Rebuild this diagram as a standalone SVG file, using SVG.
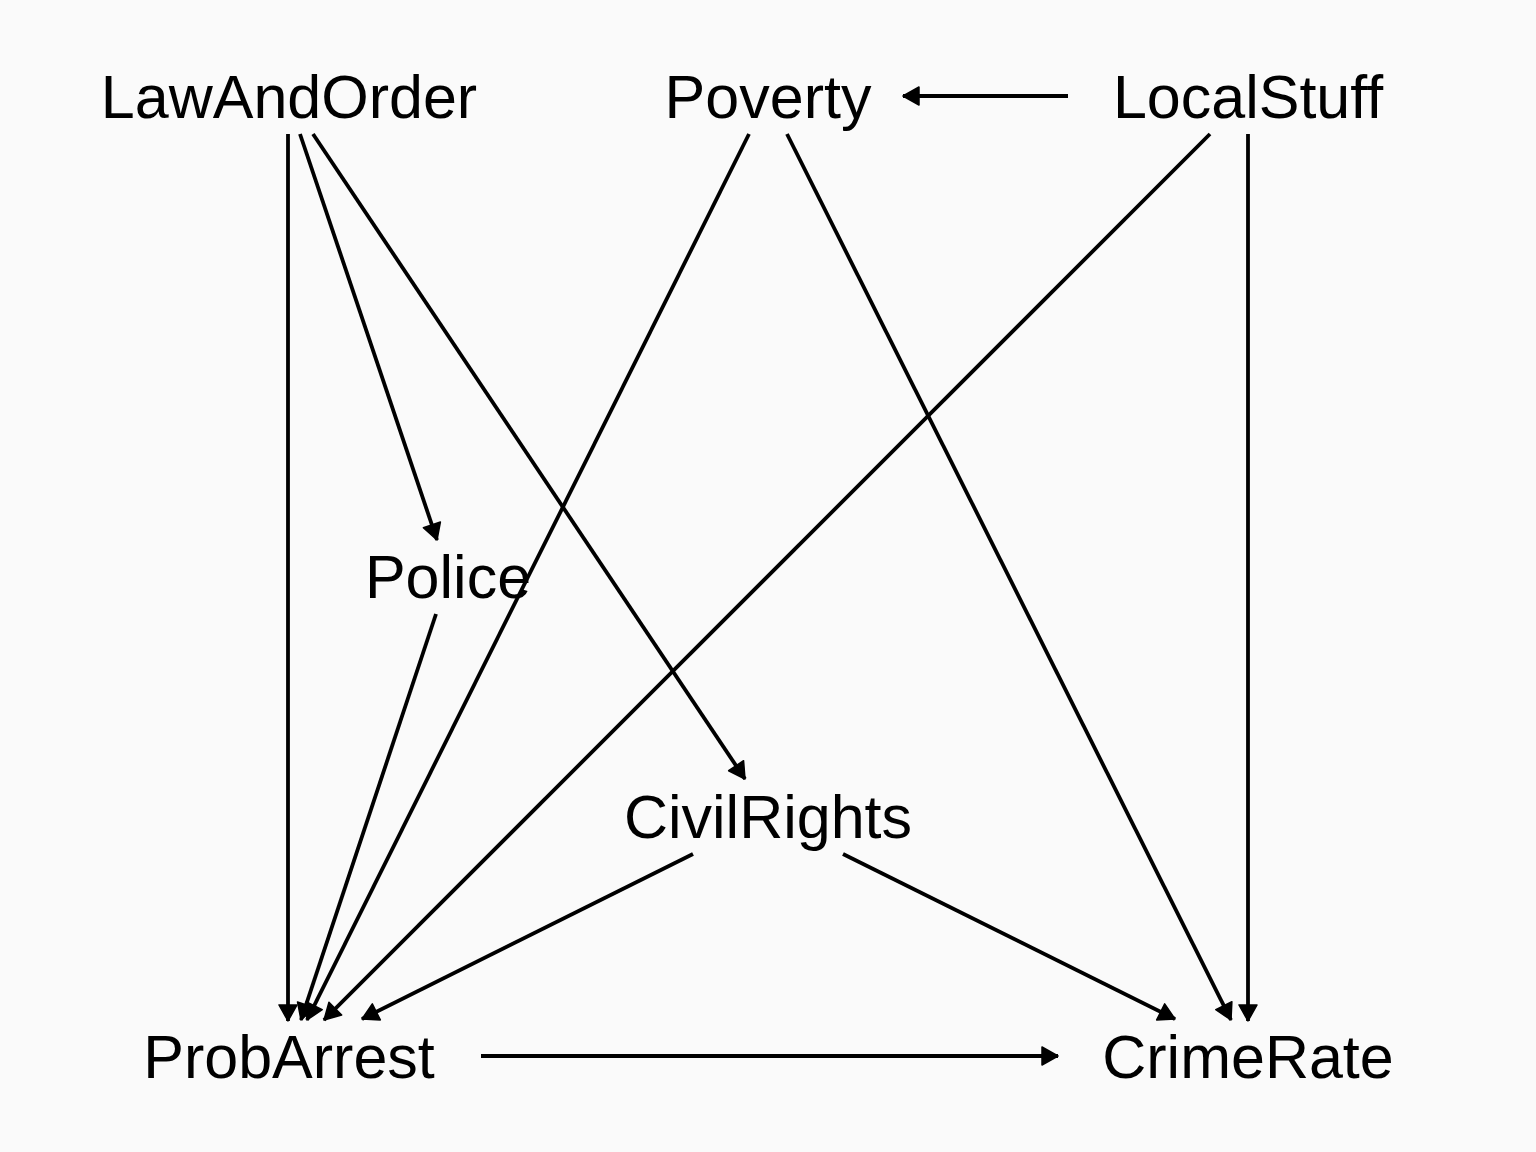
<svg xmlns="http://www.w3.org/2000/svg" width="1536" height="1152" viewBox="0 0 1536 1152">
<style>
.lbl{font-family:"Liberation Sans",Arial,sans-serif;font-size:61px;fill:#000;text-anchor:middle}
.e{stroke:#000;stroke-width:3.8;fill:none;marker-end:url(#ah)}
</style>
<defs>
<marker id="ah" markerUnits="userSpaceOnUse" markerWidth="18" markerHeight="20" refX="16" refY="9" orient="auto" overflow="visible">
<path d="M0,0 L16,9 L0,18 Z" fill="#000" stroke="#000" stroke-width="1.5" stroke-linejoin="round"/>
</marker>
</defs>
<rect width="1536" height="1152" fill="#FAFAFA"/>
<g id="edges">
<line class="e" x1="288" y1="134" x2="288" y2="1021"/>
<line class="e" x1="300" y1="134" x2="437" y2="540"/>
<line class="e" x1="313" y1="134" x2="745" y2="779"/>
<line class="e" x1="749" y1="134" x2="307" y2="1020"/>
<line class="e" x1="787" y1="134" x2="1231" y2="1020"/>
<line class="e" x1="1068" y1="96" x2="903" y2="96"/>
<line class="e" x1="1210" y1="134" x2="324" y2="1020"/>
<line class="e" x1="1248" y1="134" x2="1248" y2="1021"/>
<line class="e" x1="436" y1="614" x2="301" y2="1020"/>
<line class="e" x1="693" y1="854" x2="362" y2="1019"/>
<line class="e" x1="843" y1="854" x2="1175" y2="1019"/>
<line class="e" x1="481" y1="1056" x2="1058" y2="1056"/>
</g>
<g id="LawAndOrder"><text class="lbl" x="289" y="118">LawAndOrder</text></g>
<g id="Poverty"><text class="lbl" x="768" y="118">Poverty</text></g>
<g id="LocalStuff"><text class="lbl" x="1248" y="118">LocalStuff</text></g>
<g id="Police"><text class="lbl" x="448" y="598">Police</text></g>
<g id="CivilRights"><text class="lbl" x="768" y="838">CivilRights</text></g>
<g id="ProbArrest"><text class="lbl" x="289" y="1078">ProbArrest</text></g>
<g id="CrimeRate"><text class="lbl" x="1248" y="1078">CrimeRate</text></g>
</svg>
